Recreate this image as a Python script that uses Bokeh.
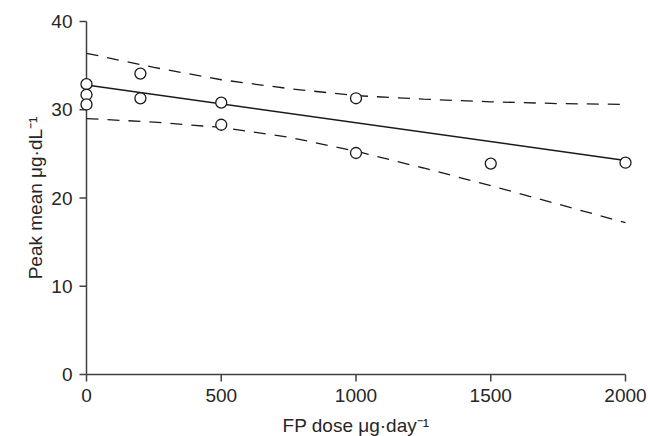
from bokeh.plotting import figure
from bokeh.models import Range1d, FixedTicker
from bokeh.embed import file_html
from bokeh.resources import INLINE

# ---- data ----
dose = [0, 0, 0, 200, 200, 500, 500, 1000, 1000, 1500, 2000]
peak = [32.9, 31.7, 30.6, 34.1, 31.3, 30.8, 28.3, 31.3, 25.1, 23.9, 24.0]

fit_dose = [0, 2000]
fit_peak = [32.8, 24.25]

ci_dose = [0, 250, 500, 750, 1000, 1250, 1500, 1750, 2000]
ci_upper = [36.4, 34.8, 33.4, 32.4, 31.6, 31.2, 30.9, 30.7, 30.6]
ci_lower = [29.0, 28.6, 28.0, 26.9, 25.3, 23.4, 21.4, 19.3, 17.2]

x_ticks = [0, 500, 1000, 1500, 2000]
y_ticks = [0, 10, 20, 30, 40]
x_title = "FP dose μg·day⁻¹"
y_title = "Peak mean μg·dL⁻¹"

# ---- layout ----
X0, X1 = x_ticks[0], x_ticks[-1]
Y0, Y1 = y_ticks[0], y_ticks[-1]
PLOT_W, PLOT_H = 539, 353          # pixels spanned by the data extent
PAD_L, PAD_R, PAD_T, PAD_B = 12, 12, 10, 10
sx = PLOT_W / (X1 - X0)
sy = PLOT_H / (Y1 - Y0)
TICK = 7

FONT = "Liberation Sans"
FS = "19px"
TEXT = "#262626"
AXIS = "#404040"
INK = "#1a1a1a"

p = figure(
    frame_width=PLOT_W + PAD_L + PAD_R,
    frame_height=PLOT_H + PAD_T + PAD_B,
    min_border_left=74, min_border_right=11,
    min_border_top=11, min_border_bottom=52,
    x_range=Range1d(X0 - PAD_L / sx, X1 + PAD_R / sx),
    y_range=Range1d(Y0 - PAD_B / sy, Y1 + PAD_T / sy),
    output_backend="svg", toolbar_location=None,
    background_fill_color="white", border_fill_color="white",
)
p.outline_line_color = None
p.xgrid.visible = False
p.ygrid.visible = False

for ax, ticks in ((p.xaxis[0], x_ticks), (p.yaxis[0], y_ticks)):
    ax.ticker = FixedTicker(ticks=ticks)
    ax.axis_line_color = None
    ax.major_tick_line_color = None
    ax.minor_tick_line_color = None
    ax.major_tick_in = 0
    ax.major_tick_out = 0
    ax.major_label_text_font = FONT
    ax.major_label_text_font_size = FS
    ax.major_label_text_color = TEXT
    ax.axis_label_text_font = FONT
    ax.axis_label_text_font_size = FS
    ax.axis_label_text_font_style = "normal"
    ax.axis_label_text_color = TEXT

p.xaxis.axis_label = x_title
p.yaxis.axis_label = y_title
p.xaxis.major_label_standoff = 4
p.yaxis.major_label_standoff = 2
p.xaxis.axis_label_standoff = 10
p.yaxis.axis_label_standoff = 2

# axis lines and ticks drawn at the data origin
p.segment(x0=[X0, X0], y0=[Y0, Y0], x1=[X0, X1], y1=[Y1, Y0],
          line_color=AXIS, line_width=1.5)
p.segment(x0=[X0 - TICK / sx] * len(y_ticks), y0=y_ticks,
          x1=[X0] * len(y_ticks), y1=y_ticks,
          line_color=AXIS, line_width=1.5)
p.segment(x0=x_ticks, y0=[Y0 - TICK / sy] * len(x_ticks),
          x1=x_ticks, y1=[Y0] * len(x_ticks),
          line_color=AXIS, line_width=1.5)

# confidence band and fit
p.line(ci_dose, ci_upper, line_color=INK, line_width=1.3, line_dash="12 9")
p.line(ci_dose, ci_lower, line_color=INK, line_width=1.3, line_dash="12 9")
p.line(fit_dose, fit_peak, line_color=INK, line_width=1.4)

# observations
p.scatter(dose, peak, marker="circle", size=11, fill_color="white",
          line_color=INK, line_width=1.3)

open("out.html", "w").write(file_html(p, INLINE))
